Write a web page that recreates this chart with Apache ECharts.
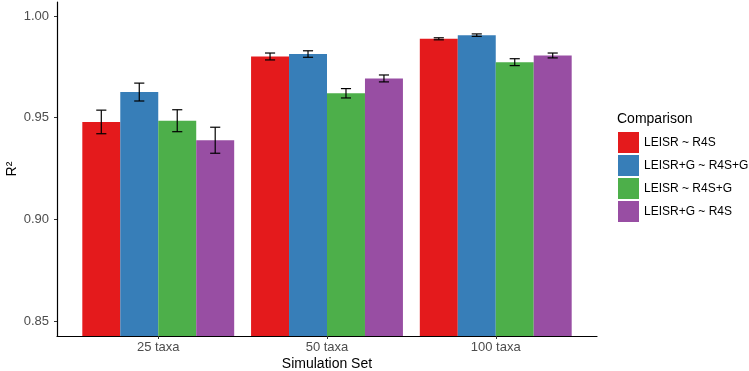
<!DOCTYPE html>
<html><head><meta charset="utf-8">
<script src="https://cdn.jsdelivr.net/npm/echarts@6/dist/echarts.min.js"></script>
<style>html,body{margin:0;padding:0;background:#fff}#c{width:749px;height:371px}</style>
</head><body><div id="c"></div>
<script>
const categories = ['25 taxa', '50 taxa', '100 taxa'];
const seriesNames = ['LEISR ~ R4S', 'LEISR+G ~ R4S+G', 'LEISR ~ R4S+G', 'LEISR+G ~ R4S'];
const valuesLeisrR4S     = [0.9479, 0.9801, 0.9888];
const valuesLeisrGR4SG   = [0.9626, 0.9813, 0.9906];
const valuesLeisrR4SG    = [0.9485, 0.9620, 0.9773];
const valuesLeisrGR4S    = [0.9389, 0.9693, 0.9806];
const errLeisrR4S        = [0.0058, 0.0017, 0.0005];
const errLeisrGR4SG      = [0.0044, 0.0016, 0.0006];
const errLeisrR4SG       = [0.0054, 0.0023, 0.0017];
const errLeisrGR4S       = [0.0064, 0.0017, 0.0012];
const yTicks = [0.85, 0.90, 0.95, 1.00];
const colors = ['#E41A1C', '#377EB8', '#4DAF4A', '#984EA3'];

const allValues = [valuesLeisrR4S, valuesLeisrGR4SG, valuesLeisrR4SG, valuesLeisrGR4S];
const allErr = [errLeisrR4S, errLeisrGR4SG, errLeisrR4SG, errLeisrGR4S];
const Y_MIN = 0.8426, Y_MAX = 1.0069;
const GROUP_W = 0.9, N = 4, BAR_W = GROUP_W / N, WHISK = 0.03;

function makeSeries(si) {
  return {
    type: 'custom',
    name: seriesNames[si],
    itemStyle: { color: colors[si] },
    data: categories.map((c, ci) => [ci + 1, allValues[si][ci], allErr[si][ci]]),
    renderItem: function (params, api) {
      const cx = api.value(0) - GROUP_W / 2 + BAR_W * (si + 0.5);
      const v = api.value(1), e = api.value(2);
      const pTopL = api.coord([cx - BAR_W / 2, v]);
      const pBotR = api.coord([cx + BAR_W / 2, Y_MIN]);
      const eTop = api.coord([cx, v + e]);
      const eBot = api.coord([cx, v - e]);
      const wL = api.coord([cx - WHISK, v])[0];
      const wR = api.coord([cx + WHISK, v])[0];
      const ls = { stroke: '#000', lineWidth: 1.2 };
      return {
        type: 'group',
        children: [
          { type: 'rect', shape: { x: pTopL[0], y: pTopL[1], width: pBotR[0] - pTopL[0], height: pBotR[1] - pTopL[1] }, style: { fill: colors[si] } },
          { type: 'line', shape: { x1: eTop[0], y1: eTop[1], x2: eBot[0], y2: eBot[1] }, style: ls },
          { type: 'line', shape: { x1: wL, y1: eTop[1], x2: wR, y2: eTop[1] }, style: ls },
          { type: 'line', shape: { x1: wL, y1: eBot[1], x2: wR, y2: eBot[1] }, style: ls }
        ]
      };
    }
  };
}

const chart = echarts.init(document.getElementById('c'), null, { renderer: 'canvas' });
chart.setOption({
  animation: false,
  textStyle: { fontFamily: 'Liberation Sans, Arial, sans-serif' },
  title: {
    text: 'Comparison', left: 617, top: 112, padding: 0,
    textStyle: { fontSize: 14, fontWeight: 'normal', color: '#000', fontFamily: 'Liberation Sans, Arial, sans-serif' }
  },
  legend: {
    orient: 'vertical', left: 618, top: 132, padding: 0,
    icon: 'rect', itemWidth: 21, itemHeight: 21, itemGap: 2,
    textStyle: { fontSize: 12, color: '#000' },
    data: seriesNames
  },
  grid: { left: 57, right: 152, top: 2, bottom: 35, containLabel: false, outerBoundsMode: 'none' },
  xAxis: {
    type: 'value', min: 0.4, max: 3.6,
    splitLine: { show: false },
    axisLine: { show: true, lineStyle: { color: '#000', width: 1.2 } },
    axisTick: { show: true, length: 3, customValues: [1, 2, 3], lineStyle: { color: '#333' } },
    axisLabel: { customValues: [1, 2, 3], formatter: v => categories[Math.round(v) - 1] || '', color: '#4D4D4D', fontSize: 13, margin: 5 },
    name: 'Simulation Set', nameLocation: 'middle', nameGap: 21, nameMoveOverlap: false,
    nameTextStyle: { fontSize: 14, color: '#000' }
  },
  yAxis: {
    type: 'value', min: Y_MIN, max: Y_MAX,
    splitLine: { show: false },
    axisLine: { show: true, lineStyle: { color: '#000', width: 1.2 } },
    axisTick: { show: true, length: 3, customValues: yTicks, lineStyle: { color: '#333' } },
    axisLabel: { customValues: yTicks, formatter: v => v.toFixed(2), color: '#4D4D4D', fontSize: 13, margin: 8 },
    name: 'R²', nameLocation: 'middle', nameGap: 38, nameMoveOverlap: false,
    nameTextStyle: { fontSize: 14, color: '#000' }
  },
  series: [0, 1, 2, 3].map(makeSeries)
});
</script></body></html>
